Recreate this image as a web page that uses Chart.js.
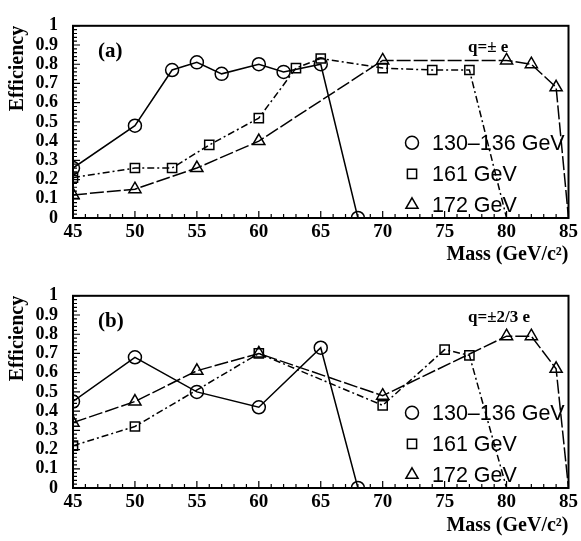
<!DOCTYPE html>
<html>
<head>
<meta charset="utf-8">
<script src="https://cdn.jsdelivr.net/npm/chart.js@4.4.0/dist/chart.umd.min.js"></script>
<style>
  html, body { margin: 0; padding: 0; background: #fff; }
  canvas { display: block; }
</style>
</head>
<body>
<canvas id="panelA" width="581" height="270"></canvas>
<canvas id="panelB" width="581" height="271"></canvas>
<script>
// panel (a): q = ±e
var massCircA = [45, 50, 53, 55, 57, 60, 62, 65, 68];
var effCircA  = [0.26, 0.48, 0.77, 0.81, 0.75, 0.80, 0.76, 0.80, 0];
var massSqA   = [45, 50, 53, 56, 60, 63, 65, 70, 74, 77, 80];
var effSqA    = [0.21, 0.26, 0.26, 0.38, 0.52, 0.78, 0.83, 0.78, 0.77, 0.77, 0];
var massTriA  = [45, 50, 55, 60, 70, 80, 82, 84, 85];
var effTriA   = [0.12, 0.15, 0.26, 0.40, 0.82, 0.82, 0.80, 0.68, 0];

// panel (b): q = ±2/3 e
var massCircB = [45, 50, 55, 60, 65, 68];
var effCircB  = [0.45, 0.68, 0.50, 0.42, 0.73, 0];
var massSqB   = [45, 50, 60, 70, 75, 77, 80];
var effSqB    = [0.22, 0.32, 0.70, 0.43, 0.72, 0.69, 0];
var massTriB  = [45, 50, 55, 60, 70, 80, 82, 84, 85];
var effTriB   = [0.34, 0.45, 0.61, 0.70, 0.48, 0.79, 0.79, 0.62, 0];

var energies = ["130\u2013136 GeV", "161 GeV", "172 GeV"];
var massRange = [45, 85];
var effRange = [0, 1];

var serif = "'Liberation Serif', 'Times New Roman', serif";
var sans = "'Liberation Sans', Arial, sans-serif";

var looks = [
  { pointStyle: "circle", radius: 6.5, dash: [], hideZero: false },
  { pointStyle: "rect", radius: 6.5, dash: [7, 3, 2, 3], hideZero: true },
  { pointStyle: "triangle", radius: 7, dash: [14, 3], hideZero: true }
];

function pairs(xs, ys) {
  return xs.map(function (x, i) { return { x: x, y: ys[i] }; });
}

function symbol(ctx, style, r, x, y) {
  ctx.beginPath();
  if (style === "circle") {
    ctx.arc(x, y, r, 0, Math.PI * 2);
  } else if (style === "rect") {
    var s = r * Math.SQRT1_2;
    ctx.rect(x - s, y - s, 2 * s, 2 * s);
  } else {
    ctx.moveTo(x, y - r);
    ctx.lineTo(x + r * 0.866, y + r * 0.5);
    ctx.lineTo(x - r * 0.866, y + r * 0.5);
    ctx.closePath();
  }
  ctx.stroke();
}

// frame, inside ticks, panel tag, charge label and legend
var decor = {
  id: "decor",
  afterDraw: function (chart, args, opts) {
    var ctx = chart.ctx, a = chart.chartArea;
    var xs = chart.scales.x, ys = chart.scales.y;
    ctx.save();
    ctx.strokeStyle = "#000";
    ctx.lineWidth = 2;
    ctx.strokeRect(a.left, a.top, a.right - a.left, a.bottom - a.top);

    ctx.lineWidth = 1.2;
    ctx.beginPath();
    for (var m = massRange[0]; m <= massRange[1]; m++) {
      var px = xs.getPixelForValue(m), lx = m % 5 === 0 ? 7 : 4;
      ctx.moveTo(px, a.bottom);
      ctx.lineTo(px, a.bottom - lx);
    }
    for (var k = 0; k <= 50; k++) {
      var py = ys.getPixelForValue(k / 50), ly = k % 5 === 0 ? 7 : 4;
      ctx.moveTo(a.left, py);
      ctx.lineTo(a.left + ly, py);
    }
    ctx.stroke();

    ctx.fillStyle = "#000";
    ctx.textBaseline = "middle";
    ctx.font = "bold 21px " + serif;
    ctx.fillText(opts.tag, a.left + 25, a.top + 26);
    ctx.font = "bold 17px " + serif;
    ctx.fillText(opts.charge, a.left + 395, a.top + 22);

    ctx.font = "21.5px " + sans;
    ctx.lineWidth = 1.5;
    var rows = [117, 148, 179];
    chart.data.datasets.forEach(function (ds, i) {
      var y = a.top + rows[i];
      symbol(ctx, looks[i].pointStyle, looks[i].radius, a.left + 339, y);
      ctx.fillText(ds.label, a.left + 359, y + 1);
    });
    ctx.restore();
  }
};

function makePanel(id, tag, charge, sets, xHeight) {
  var datasets = sets.map(function (pts, i) {
    var look = looks[i];
    return {
      label: energies[i],
      data: pts,
      borderColor: "#000",
      backgroundColor: "rgba(0,0,0,0)",
      borderWidth: 1.5,
      borderDash: look.dash,
      pointStyle: look.pointStyle,
      pointRadius: function (c) {
        return look.hideZero && c.raw && c.raw.y === 0 ? 0 : look.radius;
      },
      pointBorderWidth: 1.5,
      pointBorderColor: "#000",
      pointBackgroundColor: "rgba(0,0,0,0)",
      tension: 0,
      clip: 0
    };
  });

  new Chart(id, {
    type: "line",
    data: { datasets: datasets },
    options: {
      responsive: false,
      animation: false,
      layout: { padding: { left: 0, right: 10, top: 11, bottom: 0 } },
      plugins: {
        legend: { display: false },
        tooltip: { enabled: false },
        decor: { tag: tag, charge: charge }
      },
      scales: {
        x: {
          type: "linear",
          min: massRange[0],
          max: massRange[1],
          grid: { display: false, drawTicks: false },
          border: { display: false },
          ticks: {
            stepSize: 5,
            autoSkip: false,
            padding: 3,
            maxRotation: 0,
            color: "#000",
            font: { family: serif, size: 19, weight: "bold" }
          },
          title: {
            display: true,
            text: "Mass (GeV/c\u00b2)",
            align: "end",
            color: "#000",
            padding: { top: 0, bottom: 3 },
            font: { family: serif, size: 20, weight: "bold" }
          },
          afterFit: function (s) { s.height = xHeight; }
        },
        y: {
          min: effRange[0],
          max: effRange[1],
          grid: { display: false, drawTicks: false },
          border: { display: false },
          ticks: {
            stepSize: 0.1,
            autoSkip: false,
            padding: 15,
            color: "#000",
            font: { family: serif, size: 18, weight: "bold" },
            callback: function (v) { return String(Math.round(v * 10) / 10); }
          },
          title: {
            display: true,
            text: "Efficiency",
            align: "end",
            color: "#000",
            padding: { top: 6, bottom: 0 },
            font: { family: serif, size: 20, weight: "bold" }
          },
          afterFit: function (s) { s.width = 73; }
        }
      }
    },
    plugins: [decor]
  });
}

makePanel("panelA", "(a)", "q=\u00b1 e",
  [pairs(massCircA, effCircA), pairs(massSqA, effSqA), pairs(massTriA, effTriA)], 52);
makePanel("panelB", "(b)", "q=\u00b12/3 e",
  [pairs(massCircB, effCircB), pairs(massSqB, effSqB), pairs(massTriB, effTriB)], 53);
</script>
</body>
</html>
